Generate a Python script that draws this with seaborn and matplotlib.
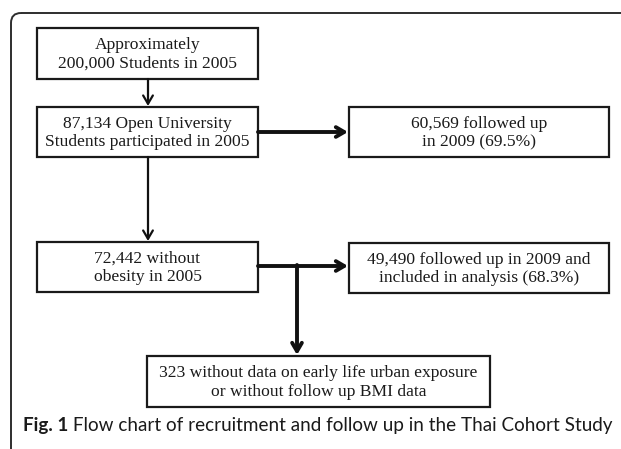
import matplotlib
matplotlib.use("Agg")
import matplotlib.pyplot as plt
import seaborn as sns
from matplotlib.patches import Rectangle, FancyBboxPatch

# ── Flow chart content ────────────────────────────────────────────────────────
box_labels = [
    "Approximately\n200,000 Students in 2005",
    "87,134 Open University\nStudents participated in 2005",
    "60,569 followed up\nin 2009 (69.5%)",
    "72,442 without\nobesity in 2005",
    "49,490 followed up in 2009 and\nincluded in analysis (68.3%)",
    "323 without data on early life urban exposure\nor without follow up BMI data",
]
caption_bold = "Fig. 1"
caption_text = " Flow chart of recruitment and follow up in the Thai Cohort Study"

# ── Layout (pixels, origin top-left) ──────────────────────────────────────────
W, H = 621, 449
boxes = [  # x0, y0, x1, y1
    (37, 28, 258, 79),
    (37, 107, 258, 157),
    (349, 107, 609, 157),
    (37, 242, 258, 292),
    (349, 243, 609, 293),
    (147, 356, 490, 407),
]

sns.set_theme(style="white")
plt.rcParams["font.family"] = ["Liberation Serif", "DejaVu Serif"]

fig = plt.figure(figsize=(W / 100, H / 100), dpi=100)
ax = fig.add_axes([0, 0, 1, 1])
ax.set_xlim(0, W)
ax.set_ylim(H, 0)
ax.axis("off")

# outer rounded frame (runs off the right and bottom edges)
frame = FancyBboxPatch((11, 13), 700, 500, boxstyle="round,pad=0,rounding_size=10",
                       fill=False, ec="#2e2e2e", lw=1.4)
ax.add_patch(frame)

for (x0, y0, x1, y1), label in zip(boxes, box_labels):
    ax.add_patch(Rectangle((x0, y0), x1 - x0, y1 - y0, fill=False, ec="#1a1a1a", lw=1.6))
    ax.text((x0 + x1) / 2, (y0 + y1) / 2 + 1, label, ha="center", va="center",
            fontsize=12.6, linespacing=1.22, color="#1a1a1a")

head = "->,head_length=0.6,head_width=0.35"
arrow_thin = dict(arrowstyle=head, color="#111111", lw=1.6, shrinkA=0, shrinkB=0,
                  mutation_scale=10)
arrow_thick = dict(arrowstyle=head, color="#111111", lw=2.8, shrinkA=0, shrinkB=0,
                   mutation_scale=10)

# vertical arrows
ax.annotate("", xy=(148, 106), xytext=(148, 79), arrowprops=arrow_thin)
ax.annotate("", xy=(148, 241), xytext=(148, 157), arrowprops=arrow_thin)
# horizontal arrows
ax.annotate("", xy=(348, 132), xytext=(258, 132), arrowprops=arrow_thick)
ax.annotate("", xy=(348, 266), xytext=(258, 266), arrowprops=arrow_thick)
# branch down to exclusion box
ax.annotate("", xy=(297, 355), xytext=(297, 265), arrowprops=arrow_thick)

# caption: fit to span the frame width
cap_family = ["Lato", "DejaVu Sans"]
cap_x0, cap_x1, cap_y = 23, 613, 425
fs = 14.0
fig.canvas.draw()
r = fig.canvas.get_renderer()
for _ in range(3):
    t1 = ax.text(cap_x0, cap_y, caption_bold, ha="left", va="center", fontsize=fs,
                 fontweight="bold", family=cap_family)
    t2 = ax.text(0, cap_y, caption_text, ha="left", va="center", fontsize=fs,
                 family=cap_family)
    w = t1.get_window_extent(r).width + t2.get_window_extent(r).width
    t1.remove()
    t2.remove()
    fs *= (cap_x1 - cap_x0) / w

t1 = ax.text(cap_x0, cap_y, caption_bold, ha="left", va="center", fontsize=fs,
             fontweight="bold", family=cap_family, color="#1a1a1a")
x_end = cap_x0 + t1.get_window_extent(r).width
ax.text(x_end, cap_y, caption_text, ha="left", va="center", fontsize=fs,
        family=cap_family, color="#1a1a1a")

fig.savefig("out.png", dpi=100)
